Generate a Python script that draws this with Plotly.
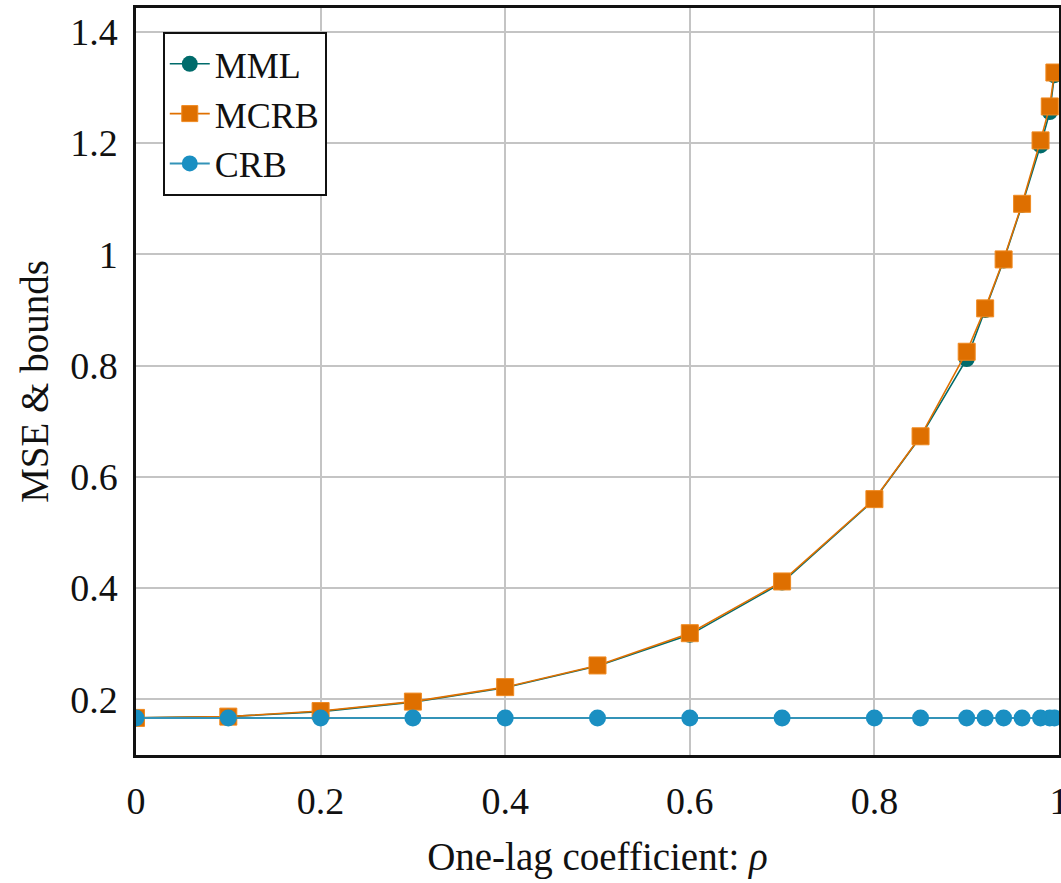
import plotly.graph_objects as go

# One-lag coefficient values
rho = [0, 0.1, 0.2, 0.3, 0.4, 0.5, 0.6, 0.7, 0.8, 0.85, 0.9, 0.92, 0.94, 0.96, 0.98, 0.99, 0.995]

# MSE of the mismatched ML estimator
mml = [0.1667, 0.169, 0.178, 0.195, 0.221, 0.260, 0.316, 0.410, 0.559, 0.672, 0.812, 0.900, 0.989, 1.089, 1.196, 1.256, 1.322]
# Misspecified Cramer-Rao bound
mcrb = [0.1667, 0.169, 0.179, 0.196, 0.222, 0.261, 0.319, 0.412, 0.560, 0.673, 0.825, 0.903, 0.991, 1.091, 1.205, 1.266, 1.327]
# Classical Cramer-Rao bound
crb = [0.1667, 0.1667, 0.1667, 0.1667, 0.1667, 0.1667, 0.1667, 0.1667, 0.1667,
       0.1667, 0.1667, 0.1667, 0.1667, 0.1667, 0.1667, 0.1667, 0.1667]

y_ticks = [0.2, 0.4, 0.6, 0.8, 1.0, 1.2, 1.4]
y_tick_text = ["0.2", "0.4", "0.6", "0.8", "1", "1.2", "1.4"]
x_ticks = [0, 0.2, 0.4, 0.6, 0.8, 1.0]
x_tick_text = ["0", "0.2", "0.4", "0.6", "0.8", "1"]

FONT = "Liberation Serif"

fig = go.Figure()
fig.add_trace(go.Scatter(
    x=rho, y=mml, name="MML", mode="lines+markers",
    line=dict(color="#006b6b", width=1.6),
    marker=dict(symbol="circle", size=16, color="#006b6b"),
))
fig.add_trace(go.Scatter(
    x=rho, y=mcrb, name="MCRB", mode="lines+markers",
    line=dict(color="#e07000", width=1.6),
    marker=dict(symbol="square", size=17, color="#de6f00",
                line=dict(color="#f08a20", width=1)),
))
fig.add_trace(go.Scatter(
    x=rho, y=crb, name="CRB", mode="lines+markers",
    line=dict(color="#3393b8", width=2),
    marker=dict(symbol="circle", size=17, color="#1a8fc2"),
))

fig.update_layout(
    width=1061, height=883,
    margin=dict(l=136, r=2, t=8, b=128, autoexpand=False),
    paper_bgcolor="white", plot_bgcolor="white",
    font=dict(family=FONT, size=38, color="#111111"),
    showlegend=True,
    legend=dict(
        x=0.029, y=0.968, xanchor="left", yanchor="top",
        bgcolor="white", bordercolor="#111111", borderwidth=2,
        font=dict(family=FONT, size=36, color="#111111"),
        itemwidth=40, tracegroupgap=0,
    ),
)

fig.update_xaxes(
    range=[0, 1], tickvals=x_ticks, ticktext=x_tick_text,
    showgrid=True, gridcolor="#c4c4c4", gridwidth=1.5,
    showline=True, linecolor="#111111", linewidth=2.5, mirror=True,
    zeroline=False, ticks="", ticklabelstandoff=11,
    ticklabeloverflow="allow", automargin=False,
    tickfont=dict(family=FONT, size=38),
    title=dict(text="One-lag coefficient: <i>ρ</i>", font=dict(family=FONT, size=39), standoff=22),
)
fig.update_yaxes(
    range=[0.1, 1.443], tickvals=y_ticks, ticktext=y_tick_text,
    showgrid=True, gridcolor="#c4c4c4", gridwidth=1.5,
    showline=True, linecolor="#111111", linewidth=2.5, mirror=True,
    zeroline=False, ticks="", ticklabelstandoff=8, automargin=False,
    tickfont=dict(family=FONT, size=38),
    title=dict(text="MSE &amp; bounds", font=dict(family=FONT, size=39), standoff=10),
)

fig.write_html("out.html")
